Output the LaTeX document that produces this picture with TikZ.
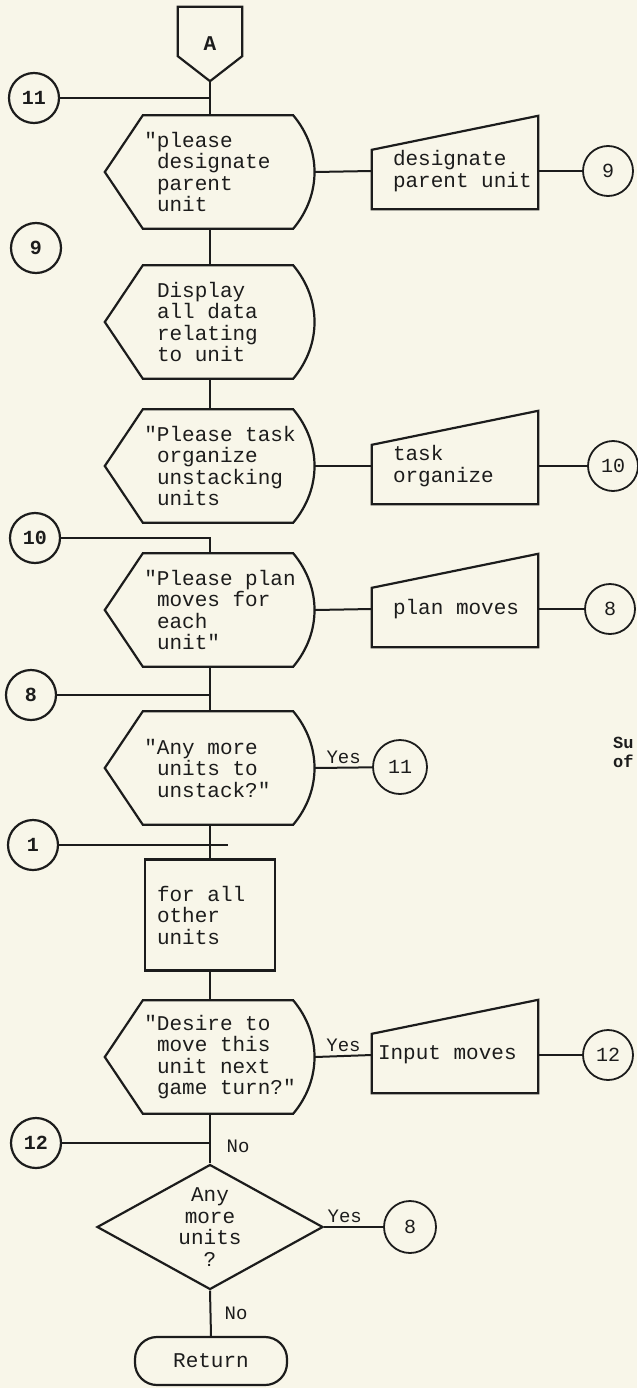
\documentclass[tikz,border=0pt]{standalone}
\usepackage{fontspec}
\usepackage{xcolor}
\usetikzlibrary{shapes.geometric, calc}
\newfontfamily\tw{Liberation Mono}
\newcommand\wsp{\nobreak\hspace{0.6em}}
\definecolor{Paper}{RGB}{248,246,233}
\definecolor{Ink}{RGB}{28,28,28}

\begin{document}
\begin{tikzpicture}[x=1pt,y=-1pt,
    every node/.style={font=\tw\fontsize{21}{21.5}\selectfont,text=Ink},
    disp/.style={minimum width=210pt,minimum height=113pt,text width=106pt,
                 align=left,inner sep=0pt},
    manin/.style={minimum width=166pt,minimum height=76pt,text width=124pt,
                  align=left,inner sep=0pt},
    proc/.style={draw=Ink,line width=2.2pt,minimum width=130pt,minimum height=111pt,
                 text width=106pt,align=left,inner sep=0pt},
    conn/.style={circle,draw=Ink,line width=1.8pt,minimum size=50pt,inner sep=0pt,
                 font=\tw\fontsize{20}{20}\selectfont},
    connb/.style={conn,line width=2.2pt,font=\tw\bfseries\fontsize{20}{20}\selectfont},
    lbl/.style={font=\tw\fontsize{19}{19}\selectfont},
    ln/.style={Ink,line width=2pt}
  ]
  \fill[Paper] (0,0) rectangle (637,1388);
  \useasboundingbox (0,0) rectangle (637,1388);

  % main column
  \node[minimum width=64pt,minimum height=74pt,inner sep=0pt,
        font=\tw\bfseries\fontsize{21}{21}\selectfont] (A) at (210,44) {A};
  \node[disp] (d1) at (210,172) {\llap{"}please\\designate\\parent\\unit};
  \node[disp] (d2) at (210,322) {Display\\all\wsp data\\relating\\to\wsp unit};
  \node[disp] (d3) at (210,466) {\llap{"}Please\wsp task\\organize\\unstacking\\units};
  \node[disp] (d4) at (210,610) {\llap{"}Please\wsp plan\\moves\wsp for\\each\\unit"};
  \node[disp] (d5) at (210,768) {\llap{"}Any\wsp more\\units\wsp to\\unstack?"};
  \node[proc] (p1) at (210,915) {for\wsp all\\other\\units};
  \node[disp] (d6) at (210,1057)
    {\llap{"}Desire\wsp to\\move\wsp this\\unit\wsp next\\game\wsp turn?"};
  \node[diamond,draw=Ink,line width=2.2pt,aspect=1.8,minimum width=226pt,
        minimum height=125pt,align=center,inner sep=0pt] (q) at (210,1227)
        {Any\\more\\units\\?};
  \node[draw=Ink,line width=2.2pt,rounded corners=22pt,minimum width=152pt,
        minimum height=48pt] (ret) at (211,1361) {Return};

  % manual inputs
  \node[manin] (m1) at (455,171) {designate\\parent\wsp unit};
  \node[manin] (m2) at (455,466) {task\\organize};
  \node[manin] (m3) at (455,609) {plan\wsp moves};
  \node[manin] (m4) at (455,1055) {\hspace*{-15pt}Input\wsp moves};

  % connectors on the left
  \node[connb] (c11) at (34,98) {11};
  \node[connb] (c9) at (36,248) {9};
  \node[connb] (c10) at (35,538) {10};
  \node[connb] (c8) at (31,695) {8};
  \node[connb] (c1) at (33,845) {1};
  \node[connb] (c12) at (36,1143) {12};

  % connectors on the right
  \node[conn] (c9r) at (608,171) {9};
  \node[conn] (c10r) at (613,466) {10};
  \node[conn] (c8r) at (610,609) {8};
  \node[conn,minimum size=54pt] (c11r) at (400,767) {11};
  \node[conn] (c12r) at (608,1055) {12};
  \node[conn,minimum size=52pt] (c8b) at (410,1227) {8};

  \coordinate (j1) at (210,98);
  \coordinate (j2) at (210,538);
  \coordinate (j3) at (210,695);
  \coordinate (j4) at (228,845);
  \coordinate (j5) at (210,1143);

  % outlines
  \draw[ln,line width=2.2pt] (A.north west) -- (A.north east) -- ([yshift=25pt]A.south east)
    -- (A.south) -- ([yshift=25pt]A.south west) -- cycle;
  \foreach \n in {d1,d2,d3,d4,d5,d6}
    \draw[ln,line width=2.2pt] (\n.west) -- ([xshift=38pt]\n.north west)
      -- ([xshift=-22pt]\n.north east) to[bend left=40] ([xshift=-22pt]\n.south east)
      -- ([xshift=38pt]\n.south west) -- cycle;
  \foreach \n in {m1,m2,m3,m4}
    \draw[ln,line width=2.2pt] (\n.south west) -- ([yshift=-17pt]\n.north west)
      -- ([yshift=17pt]\n.north east) -- (\n.south east) -- cycle;

  % flow lines
  \draw[ln] (A.south) -- (d1.north);
  \draw[ln] (c11) -- (j1);
  \draw[ln] (d1.south) -- (d2.north);
  \draw[ln] (d2.south) -- (d3.north);
  \draw[ln] (c10) -- (j2) -- (d4.north);
  \draw[ln] (d4.south) -- (d5.north);
  \draw[ln] (c8) -- (j3);
  \draw[ln,line width=1.4pt] (d5.south) -- (p1.north);
  \draw[ln] (c1) -- (j4);
  \draw[ln] (p1.south) -- (d6.north);
  \draw[ln] (d6.south) -- (q.north);
  \draw[ln] (c12) -- (j5);
  \draw[ln] (q.south) -- (ret.north);

  \draw[ln] (d1.east) -- (m1.west);
  \draw[ln] (m1.east) -- (c9r);
  \draw[ln] (d3.east) -- (m2.west);
  \draw[ln] (m2.east) -- (c10r);
  \draw[ln] (d4.east) -- (m3.west);
  \draw[ln] (m3.east) -- (c8r);
  \draw[ln] (d5.east) -- (c11r) node[lbl,midway,above] {Yes};
  \draw[ln] (d6.east) -- (m4.west) node[lbl,midway,above] {Yes};
  \draw[ln] (m4.east) -- (c12r);
  \draw[ln] (q.east) -- (c8b) node[lbl,pos=0.35,above] {Yes};

  \node[lbl] (no1) at (238,1146) {No};
  \node[lbl] (no2) at (236,1313) {No};
  \node[anchor=west,align=left,inner sep=0pt,
        font=\tw\bfseries\fontsize{17}{19}\selectfont] (su) at (613,752) {Su\\of};
\end{tikzpicture}
\end{document}
